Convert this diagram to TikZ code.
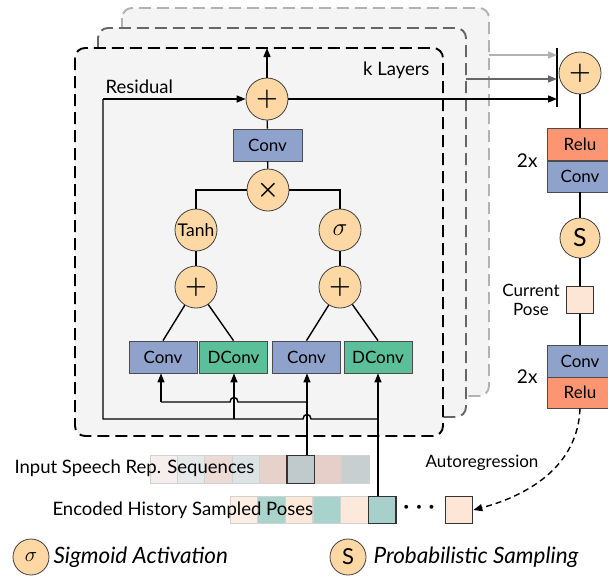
\documentclass[tikz,border=0pt]{standalone}
\usepackage{fontspec}
\setmainfont{Lato}
\usetikzlibrary{arrows.meta}

\definecolor{opfill}{HTML}{FDD8A5}
\definecolor{convblue}{HTML}{8FA2CC}
\definecolor{dconvgreen}{HTML}{5BBF9A}
\definecolor{relured}{HTML}{FB9572}
\definecolor{layerfill}{HTML}{F4F4F4}
\definecolor{posefill}{HTML}{FDE6D6}

\tikzset{
  x=1pt, y=-1pt,
  op/.style={circle, draw=black!75, fill=opfill, minimum size=42pt, inner sep=0pt, line width=0.8pt},
  bigsym/.style={font=\fontsize{36}{36}\selectfont\boldmath},
  blk/.style={rectangle, draw=black!70, line width=0.8pt, minimum width=68pt, minimum height=32pt, inner sep=0pt, font=\fontsize{17}{17}\selectfont},
  convbox/.style={blk, fill=convblue},
  dconvbox/.style={blk, fill=dconvgreen},
  relubox/.style={blk, fill=relured, minimum width=66pt, minimum height=32pt},
  link/.style={line width=1.4pt, draw=black},
  arr/.style={link, -{Triangle[length=9pt,width=7pt]}},
  layerbox/.style={rounded corners=10pt, fill=layerfill, line width=1.9pt, dash pattern=on 12pt off 6pt},
  cell/.style={rectangle, minimum size=27.4pt, inner sep=0pt, draw=black!18, line width=0.8pt},
  hicell/.style={cell, draw=black!80, line width=1.3pt},
  lbl/.style={font=\fontsize{18.5}{18.5}\selectfont},
  smalllbl/.style={font=\fontsize{17}{19}\selectfont},
  leglbl/.style={font=\itshape\fontsize{22.5}{22.5}\selectfont, anchor=west},
}

\begin{document}
\begin{tikzpicture}
\path[use as bounding box] (0,0) rectangle (608,576);

% stacked layer frames, back to front
\draw[layerbox, draw=black!30] (122,8) rectangle (489,396);
\draw[layerbox, draw=black!60] (98,28) rectangle (466,417);
\draw[layerbox, draw=black] (75,48) rectangle (443,436);
\node[lbl, anchor=east] (klayers) at (433,70) {k Layers};

% gated activation unit
\node[op] (plusT) at (267,99) {};
\node[bigsym] at (plusT) {$+$};
\node[convbox, minimum width=69pt] (convT) at (267.5,145) {Conv};
\node[op] (times) at (268,190) {};
\node[bigsym] at (times) {$\times$};
\node[op, font=\fontsize{17.5}{17.5}\selectfont] (tanh) at (196,230) {Tanh};
\node[op, font=\fontsize{26}{26}\selectfont] (sig) at (340,230) {$\sigma$};
\node[op] (plus1) at (196,287) {};
\node[bigsym] at (plus1) {$+$};
\node[op] (plus2) at (340,287) {};
\node[bigsym] at (plus2) {$+$};
\node[convbox] (conv1) at (163,357) {Conv};
\node[dconvbox] (dconv1) at (233.5,357) {DConv};
\node[convbox] (conv2) at (306.5,357) {Conv};
\node[dconvbox] (dconv2) at (378,357) {DConv};

\draw[link] (plusT) -- (convT);
\draw[link] (convT) -- (times);
\draw[link] (times.west) -| (tanh.north);
\draw[link] (times.east) -| (sig.north);
\draw[link] (tanh) -- (plus1);
\draw[link] (sig) -- (plus2);
\draw[link] (plus1) -- (conv1.north);
\draw[link] (plus1) -- (dconv1.north);
\draw[link] (plus2) -- (conv2.north);
\draw[link] (plus2) -- (dconv2.north);

% output of the layer
\coordinate (topedge) at (267,48);
\draw[arr] (plusT.north) -- (topedge);

% input sequences
\foreach \i/\c in {1/F6EEEC,2/E5E9EA,3/ECDAD5,4/DCE3E5,5/E7D2CB,7/E5CFC8,8/C7CFD1}{
  \definecolor{cellc}{HTML}{\c}
  \node[cell, fill=cellc] (in\i) at ({150+13.7+27.4*(\i-1)},469.5) {};
}
\definecolor{cellc}{HTML}{BFCACD}
\node[hicell, fill=cellc] (in6) at ({150+13.7+27.4*5},469.5) {};
\node[lbl, anchor=west] (inlbl) at (11,468) {Input Speech Rep. Sequences};

\foreach \i/\c in {1/FDEEE3,2/A9D4CC,3/FDE7D8,4/A7D3CC,5/FDE9DC}{
  \definecolor{cellc}{HTML}{\c}
  \node[cell, fill=cellc] (ep\i) at ({230+13.7+27.7*(\i-1)},510) {};
}
\definecolor{cellc}{HTML}{A6D0C9}
\node[hicell, fill=cellc] (ep6) at ({230+13.7+27.7*5},510) {};
\node[lbl, anchor=west] (eplbl) at (49,510) {Encoded History Sampled Poses};
\node[font=\fontsize{24}{24}\selectfont\boldmath] (dots) at (419,508) {$\cdots$};
\node[hicell, fill=posefill] (next) at (459,510) {};

% feeds into the dilated convolutions
\coordinate (ja) at (307,419);
\coordinate (jb) at (378,419);
\coordinate (jc) at (234,419);
\coordinate (jd) at (307,402);
\coordinate (je) at (161,402);
\coordinate (res) at (103,419);
\coordinate (restop) at (103,99);
\draw[arr] (in6.north -| ja) -- (ja |- conv2.south);
\draw[arr] (ep6.north -| jb) -- (jb |- dconv2.south);
\draw[link] (jb) -- (311,419) .. controls (311,413) and (303,413) .. (303,419) -- (res) -- (restop);
\draw[arr] (restop) -- (plusT.west);
\draw[arr] (jc) -- (jc |- dconv1.south);
\draw[link] (jd) -- (238,402) .. controls (238,396) and (230,396) .. (230,402) -- (je);
\draw[arr] (je) -- (je |- conv1.south);
\node[lbl, anchor=west] (reslbl) at (102,87) {Residual};

% skip connections into the output stack
\coordinate (bartop) at (557,48);
\coordinate (barbot) at (557,107);
\coordinate (skipA) at (466,79);
\coordinate (skipB) at (489,55);
\draw[line width=2pt] (bartop) -- (barbot);
\draw[arr] (plusT.east) -- (plusT.east -| bartop);
\draw[arr, draw=black!60] (skipA) -- (skipA -| bartop);
\draw[arr, draw=black!30] (skipB) -- (skipB -| bartop);

% output stack
\node[op] (plusR) at (580,73) {};
\node[bigsym] at (plusR) {$+$};
\node[relubox] (relu1) at (580,144.5) {Relu};
\node[convbox, minimum width=66pt, minimum height=31pt] (conv3) at (580,176.5) {Conv};
\node[font=\fontsize{19}{19}\selectfont, anchor=east] (twoA) at (541,161) {2x};
\node[op, minimum size=40pt, font=\fontsize{25}{25}\selectfont] (samp) at (580,238) {S};
\node[rectangle, draw=black!80, line width=1pt, fill=posefill, minimum size=27pt, inner sep=0pt] (cur) at (580,300) {};
\node[smalllbl, align=center] (curlbl) at (531,300) {Current\\Pose};
\node[convbox, minimum width=66pt] (conv4) at (580,361) {Conv};
\node[relubox, minimum height=31pt] (relu2) at (580,392.5) {Relu};
\node[font=\fontsize{19}{19}\selectfont, anchor=east] (twoB) at (541,377) {2x};

\draw[link] (plusR) -- (relu1);
\draw[link] (conv3) -- (samp);
\draw[link] (samp) -- (cur);
\draw[link] (cur) -- (conv4);
\draw[link, dash pattern=on 6pt off 4pt, -{Triangle[length=9pt,width=7pt]}] (relu2.south) to[out=-92,in=15] (next.east);
\node[smalllbl] (autolbl) at (482,463) {Autoregression};

% legend
\node[op, minimum size=36pt, font=\fontsize{22}{22}\selectfont] (legsig) at (31,557) {$\sigma$};
\node[leglbl] (legsigtxt) at (50,557) {Sigmoid Activation};
\node[op, minimum size=36pt, font=\fontsize{22}{22}\selectfont] (legs) at (348,557) {S};
\node[leglbl] (legstxt) at (370,557) {Probabilistic Sampling};
\end{tikzpicture}
\end{document}
